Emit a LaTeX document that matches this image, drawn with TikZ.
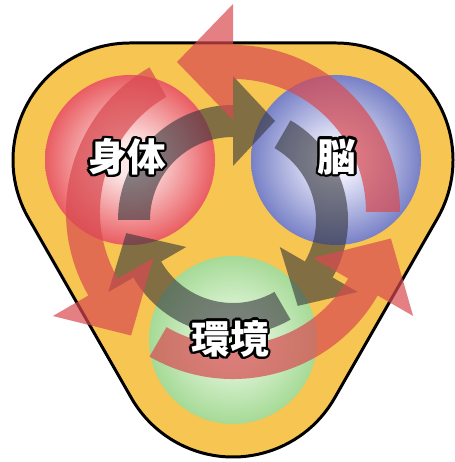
\documentclass[tikz,border=0pt]{standalone}
\usepackage{fontspec}
\newfontfamily\jpfont{Noto Sans CJK JP}
\usepackage{contour}
\contourlength{1.4pt}
\usetikzlibrary{calc}

\definecolor{plate}{RGB}{247,197,82}
\definecolor{redout}{RGB}{228,58,64}
\definecolor{redin}{RGB}{253,232,232}
\definecolor{blueout}{RGB}{84,96,182}
\definecolor{bluein}{RGB}{238,238,252}
\definecolor{greenout}{RGB}{136,204,116}
\definecolor{greenin}{RGB}{228,247,222}
\definecolor{loopgray}{RGB}{52,52,58}
\definecolor{loopred}{RGB}{216,74,80}

\pgfdeclareradialshading{redball}{\pgfpoint{0bp}{0bp}}{color(0bp)=(redin); color(5bp)=(redin); color(30bp)=(redout); color(50bp)=(redout)}
\pgfdeclareradialshading{blueball}{\pgfpoint{0bp}{0bp}}{color(0bp)=(bluein); color(5bp)=(bluein); color(31bp)=(blueout); color(50bp)=(blueout)}
\pgfdeclareradialshading{greenball}{\pgfpoint{0bp}{0bp}}{color(0bp)=(greenin); color(6bp)=(greenin); color(34bp)=(greenout); color(50bp)=(greenout)}

\tikzset{
  innerloop/.style={fill=loopgray, fill opacity=0.6},
  outerloop/.style={fill=loopred, fill opacity=0.7},
  tag/.style={font=\jpfont\bfseries\fontsize{22}{22}\selectfont, text=white, inner sep=0pt}
}

\begin{document}
\begin{tikzpicture}[x=0.02cm,y=0.02cm]
  \useasboundingbox (0,0) rectangle (455,462);
  \coordinate (body) at (130,302);
  \coordinate (brain) at (336,302);
  \coordinate (world) at (233,122);
  \coordinate (ci) at (233,242);
  \coordinate (co) at (233,250);
  % rounded plate
  \draw[line width=1.7pt, fill=plate] ($(body)+(0,117)$) -- ($(brain)+(0,117)$)
      arc[start angle=90, end angle=-30, radius=117] -- ($(world)+(-30:117)$)
      arc[start angle=-30, end angle=-150, radius=117] -- ($(body)+(210:117)$)
      arc[start angle=210, end angle=90, radius=117] -- cycle;
  % spheres
  \shade[shading=redball] (body) circle (85);
  \shade[shading=blueball] (brain) circle (85);
  \shade[shading=greenball] (world) circle (84);
  % inner cycle
  \foreach \a in {180,60,-60}{
    \fill[innerloop] ($(ci)+(\a:115)$) arc[start angle=\a, end angle=\a-90, radius=115]
      -- ($(ci)+({\a-90}:144)$) -- ($(ci)+({\a-90}:99)+({\a-180}:42)$)
      -- ($(ci)+({\a-90}:54)$) -- ($(ci)+({\a-90}:83)$)
      arc[start angle=\a-90, end angle=\a, radius=83] -- cycle;
  }
  % outer cycle
  \foreach \a in {0,120,240}{
    \fill[outerloop] ($(co)+(\a:167)$) arc[start angle=\a, end angle=\a+90, radius=167]
      -- ($(co)+({\a+90}:208)$) -- ($(co)+({\a+90}:150)+({\a+180}:56)$)
      -- ($(co)+({\a+90}:92)$) -- ($(co)+({\a+90}:133)$)
      arc[start angle=\a+90, end angle=\a, radius=133] -- cycle;
  }
  \node[tag] (tbody) at (127,304) {\contour{black}{身体}};
  \node[tag] (tbrain) at (337,304) {\contour{black}{脳}};
  \node[tag] (tworld) at (230,122) {\contour{black}{環境}};
\end{tikzpicture}
\end{document}
